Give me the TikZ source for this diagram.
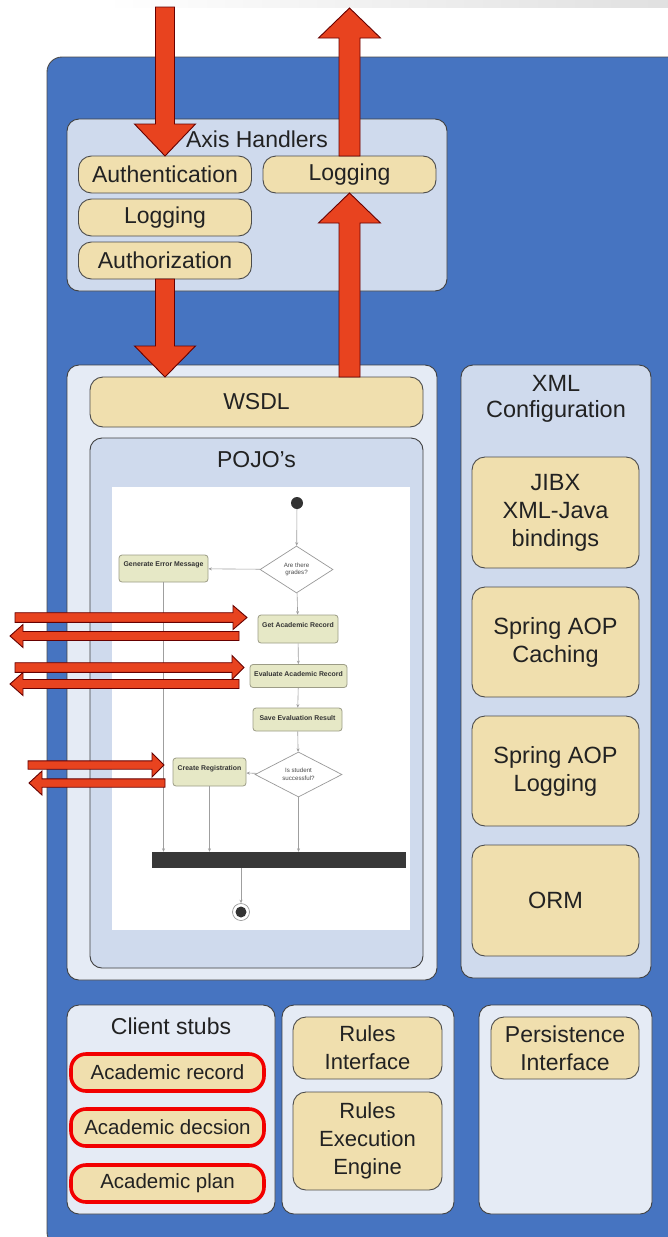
\documentclass[tikz,border=0pt]{standalone}
\usepackage{fontspec}
\setmainfont{Liberation Sans}
\usetikzlibrary{shapes.geometric,arrows.meta}
\definecolor{mainblue}{HTML}{4674C1}
\definecolor{lightA}{HTML}{CFDAED}
\definecolor{lightB}{HTML}{E5EBF5}
\definecolor{tanc}{HTML}{F0DFAE}
\definecolor{redc}{HTML}{E8431F}
\definecolor{actf}{HTML}{E6E8C6}
\definecolor{actb}{HTML}{9C9C86}
\definecolor{txt}{HTML}{222222}
\newcommand\fatV[6]{% xc, ystart, ybase, ytip, s, h
  \draw[redarr] ({#1-#5},#2) -- ({#1-#5},#3) -- ({#1-#6},#3) -- (#1,#4) -- ({#1+#6},#3) -- ({#1+#5},#3) -- ({#1+#5},#2) -- cycle;}
\newcommand\fatH[6]{% yc, xstart, xbase, xtip, s, h
  \draw[redarr] (#2,{#1-#5}) -- (#3,{#1-#5}) -- (#3,{#1-#6}) -- (#4,#1) -- (#3,{#1+#6}) -- (#3,{#1+#5}) -- (#2,{#1+#5}) -- cycle;}
\tikzset{
  cont/.style={draw=black!75, line width=0.9pt, rounded corners=12pt, inner sep=0pt},
  tan/.style={draw=black!70, line width=0.9pt, fill=tanc, rounded corners=13pt, text=txt,
     font=\fontsize{23}{28}\selectfont, align=center, inner sep=0pt},
  stub/.style={tan, draw=red!95!black, line width=3.6pt, rounded corners=15pt, font=\fontsize{20.5}{24}\selectfont},
  title/.style={text=txt, font=\fontsize{23}{27}\selectfont, align=center, inner sep=0pt},
  act/.style={draw=actb, fill=actf, rounded corners=3pt, line width=0.8pt, inner sep=0pt,
     font=\fontsize{6.9}{8}\selectfont\bfseries, text=black!80, text depth=9pt},
  dec/.style={diamond, draw=gray!80, fill=white, line width=0.7pt, inner sep=0pt,
     font=\fontsize{6.2}{7.5}\selectfont, text=gray!60!black, align=center},
  flow/.style={draw=gray!75, line width=0.6pt, -{Stealth[length=3.5pt,width=3pt]}},
  redarr/.style={fill=redc, draw=black!60!red, line width=0.9pt, line join=miter},
}
\begin{document}
\begin{tikzpicture}[x=1pt,y=-1pt]
\useasboundingbox (0,0) rectangle (668,1237);
\fill[white] (0,0) rectangle (668,1237);
\shade[left color=white, right color=black!12] (105,0) rectangle (668,7);
% main blue panel
\node[draw=black!70, line width=0.9pt, fill=mainblue, rounded corners=15pt, minimum width=640, minimum height=1190, inner sep=0pt] (panel) at (367,652) {};

% Axis handlers
\node[cont, fill=lightA, minimum width=380, minimum height=172] (axis) at (257,205) {};
\node[title] (axist) at (257,139) {Axis Handlers};
\node[tan, minimum width=173, minimum height=37] (auth) at (165,174.5) {Authentication};
\node[tan, minimum width=173, minimum height=37] (logr) at (349.5,174.5) {Logging};
\node[tan, minimum width=173, minimum height=37] (logl) at (165,217.5) {Logging};
\node[tan, minimum width=173, minimum height=37] (authz) at (165,260.5) {Authorization};

% WSDL container
\node[cont, fill=lightB, minimum width=370, minimum height=615] (wcont) at (252,672.5) {};
\node[tan, font=\fontsize{23}{27}\selectfont, minimum width=333, minimum height=50] (wsdl) at (256.5,402) {WSDL};
\node[cont, fill=lightA, minimum width=333, minimum height=530] (pojo) at (256.5,703) {};
\node[title] (pojot) at (256.5,460) {POJO's};
\node[fill=white, minimum width=298, minimum height=443, inner sep=0pt] (img) at (261,708.5) {};

% activity diagram
\node[circle, fill=black!80, minimum size=12, inner sep=0pt] (start) at (297,503) {};
\node[dec, minimum width=73, minimum height=47] (d1) at (296.5,569.5) {Are there\\grades?};
\node[act, minimum width=89, minimum height=27] (gen) at (163.5,568.5) {Generate Error Message};
\node[act, minimum width=80, minimum height=28] (get) at (298,629) {Get Academic Record};
\node[act, minimum width=97, minimum height=23, text depth=4pt] (eval) at (298.5,676) {Evaluate Academic Record};
\node[act, minimum width=89, minimum height=23, text depth=4pt] (save) at (297.5,719.5) {Save Evaluation Result};
\node[dec, minimum width=87, minimum height=45] (d2) at (298.5,774.5) {Is student\\successful?};
\node[act, minimum width=73, minimum height=28] (creg) at (209.5,772) {Create Registration};
\node[fill=black!78, minimum width=254, minimum height=16, inner sep=0pt] (bar) at (279,860) {};
\node[circle, draw=gray!80, fill=white, line width=0.7pt, minimum size=17, inner sep=0pt] (endo) at (241,912) {};
\node[circle, fill=black!80, minimum size=11, inner sep=0pt] (endi) at (241,912) {};
\draw[flow] (start) -- (d1);
\draw[flow] (d1) -- (gen);
\draw[flow] (d1) -- (get);
\draw[flow] (get) -- (eval);
\draw[flow] (eval) -- (save);
\draw[flow] (save) -- (d2);
\draw[flow] (d2) -- (creg);
\draw[flow] (gen.south) -- (gen.south |- bar.north);
\draw[flow] (creg.south) -- (creg.south |- bar.north);
\draw[flow] (d2.south) -- (d2.south |- bar.north);
\draw[flow] (bar.south -| endo.north) -- (endo.north);

% XML configuration
\node[cont, fill=lightA, minimum width=190, minimum height=613] (xml) at (556,671.5) {};
\node[title, font=\fontsize{23.5}{26}\selectfont] (xmlt) at (556,399) {XML\\Configuration};
\node[tan, font=\fontsize{23.5}{28}\selectfont, minimum width=167, minimum height=111] (jibx) at (555.5,512.5) {JIBX\\XML-Java\\bindings};
\node[tan, font=\fontsize{23.5}{28}\selectfont, minimum width=167, minimum height=110] (cach) at (555.5,642) {Spring AOP\\Caching};
\node[tan, font=\fontsize{23.5}{28}\selectfont, minimum width=167, minimum height=110] (logg) at (555.5,771) {Spring AOP\\Logging};
\node[tan, font=\fontsize{23.5}{28}\selectfont, minimum width=167, minimum height=111] (orm) at (555.5,900.5) {ORM};

% bottom row
\node[cont, fill=lightB, minimum width=208, minimum height=209] (stubs) at (171,1109.5) {};
\node[title] (stubst) at (171,1026) {Client stubs};
\node[stub, minimum width=193, minimum height=37] (arec) at (167.5,1072.5) {Academic record};
\node[stub, minimum width=193, minimum height=37] (adec) at (167.5,1127.5) {Academic decsion};
\node[stub, minimum width=193, minimum height=37] (aplan) at (167.5,1183.5) {Academic plan};
\node[cont, fill=lightB, minimum width=172, minimum height=209] (rules) at (368,1109.5) {};
\node[tan, font=\fontsize{22}{28}\selectfont, minimum width=149, minimum height=62] (rint) at (367.5,1048) {Rules\\Interface};
\node[tan, font=\fontsize{22}{28}\selectfont, minimum width=149, minimum height=98] (rexe) at (367.5,1141) {Rules\\Execution\\Engine};
\node[cont, fill=lightB, minimum width=173, minimum height=209] (pers) at (565.5,1109.5) {};
\node[tan, font=\fontsize{23}{28}\selectfont, minimum width=148, minimum height=62] (pint) at (565,1048) {Persistence\\Interface};

% big red arrows
\fatV{165}{7}{124}{156}{9.5}{30.5}
\fatV{349.5}{156}{38}{8}{10.5}{31}
\fatV{165}{279}{346}{377}{9.5}{30.5}
\fatV{349.5}{377}{223}{193}{10.5}{31}
% horizontal red arrows
\fatH{617.5}{15}{233}{247}{4.8}{12}
\fatH{636}{239}{23}{10}{4.5}{11.5}
\fatH{667.5}{15}{232}{244}{4.8}{12}
\fatH{684}{239}{23}{10}{4.5}{11.5}
\fatH{765}{28}{152}{164}{4.2}{12}
\fatH{783}{165}{42}{29}{4.2}{12}
\end{tikzpicture}
\end{document}
